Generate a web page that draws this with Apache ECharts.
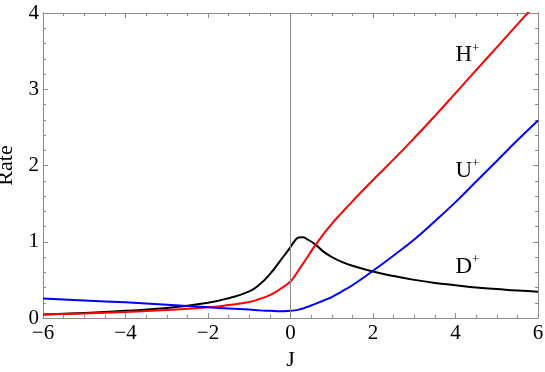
<!DOCTYPE html>
<html>
<head>
<meta charset="utf-8">
<script src="https://cdn.jsdelivr.net/npm/echarts@6/dist/echarts.min.js"></script>
<style>
  html, body { margin: 0; padding: 0; background: #fff; }
  #chart { width: 545px; height: 372px; }
</style>
</head>
<body>
<div id="chart"></div>
<script>
// J values (x) and the three rates
const jValues = [-6, -5, -4, -3, -2, -1.5, -1, -0.75, -0.5, -0.25, 0, 0.1, 0.2, 0.3, 0.4, 0.6, 0.8, 1, 1.25, 1.5, 2, 2.5, 3, 3.5, 4, 4.5, 5, 5.5, 6];
const hPlus = [0.045, 0.06, 0.08, 0.105, 0.14, 0.17, 0.21, 0.25, 0.30, 0.38, 0.48, 0.55, 0.63, 0.71, 0.79, 0.955, 1.10, 1.235, 1.385, 1.53, 1.81, 2.08, 2.36, 2.65, 2.95, 3.25, 3.55, 3.85, 4.15];
const uPlus = [0.255, 0.23, 0.205, 0.175, 0.14, 0.125, 0.11, 0.10, 0.095, 0.09, 0.095, 0.10, 0.11, 0.125, 0.145, 0.185, 0.23, 0.275, 0.35, 0.43, 0.62, 0.82, 1.03, 1.27, 1.52, 1.79, 2.06, 2.33, 2.59];
const dPlus = [0.045, 0.065, 0.095, 0.13, 0.2, 0.26, 0.35, 0.44, 0.575, 0.75, 0.93, 1.01, 1.055, 1.058, 1.035, 0.965, 0.87, 0.80, 0.735, 0.685, 0.61, 0.55, 0.50, 0.46, 0.43, 0.40, 0.38, 0.36, 0.345];

const xTicks = [-6, -4, -2, 0, 2, 4, 6];
const yTicks = [0, 1, 2, 3, 4];

const serif = '"Liberation Serif", "DejaVu Serif", serif';
const frameColor = '#8c8c8c';

function pairs(ys) {
    return jValues.map((x, i) => [x, ys[i]]);
}

function fmtX(v) {
    return v < 0 ? '\u2212' + (-v) : String(v);
}

const chart = echarts.init(document.getElementById('chart'), null, { renderer: 'canvas' });

const tickCommon = {
    show: true,
    axisLine: { show: true, onZero: false, lineStyle: { color: frameColor, width: 1 } },
    axisTick: { show: true, inside: true, length: 5, lineStyle: { color: frameColor } },
    minorTick: { show: true, length: 3, lineStyle: { color: frameColor } },
    splitLine: { show: false }
};

const option = {
    animation: false,
    backgroundColor: '#fff',
    grid: { left: 43, right: 7, top: 13, bottom: 54, outerBoundsMode: 'none', containLabel: false },
    xAxis: [{
        type: 'value', min: xTicks[0], max: xTicks[xTicks.length - 1], interval: 2,
        position: 'bottom',
        name: 'J', nameLocation: 'middle', nameGap: 30,
        nameTextStyle: { fontFamily: serif, fontSize: 22, color: '#000' },
        axisLabel: { fontFamily: serif, fontSize: 21, color: '#000', margin: 5, formatter: fmtX },
        ...tickCommon,
        minorTick: { ...tickCommon.minorTick, splitNumber: 4 }
    }, {
        type: 'value', min: xTicks[0], max: xTicks[xTicks.length - 1], interval: 2,
        position: 'top',
        axisLabel: { show: false },
        ...tickCommon,
        minorTick: { ...tickCommon.minorTick, splitNumber: 4 }
    }],
    yAxis: [{
        type: 'value', min: yTicks[0], max: yTicks[yTicks.length - 1], interval: 1,
        position: 'left',
        name: 'Rate', nameLocation: 'middle', nameGap: 20,
        nameTextStyle: { fontFamily: serif, fontSize: 22, color: '#000' },
        axisLabel: { fontFamily: serif, fontSize: 21, color: '#000', margin: 4 },
        ...tickCommon,
        minorTick: { ...tickCommon.minorTick, splitNumber: 5 }
    }, {
        type: 'value', min: yTicks[0], max: yTicks[yTicks.length - 1], interval: 1,
        position: 'right',
        axisLabel: { show: false },
        ...tickCommon,
        minorTick: { ...tickCommon.minorTick, splitNumber: 5 }
    }],
    series: [
        {
            name: 'D+', type: 'line', data: pairs(dPlus), smooth: 0.5, showSymbol: false,
            lineStyle: { color: '#000', width: 2 },
            markLine: {
                silent: true, symbol: 'none', label: { show: false },
                lineStyle: { color: frameColor, width: 1, type: 'solid' },
                data: [{ xAxis: 0 }]
            }
        },
        { name: 'H+', type: 'line', data: pairs(hPlus), smooth: 0.5, showSymbol: false, lineStyle: { color: '#ff0000', width: 2 } },
        { name: 'U+', type: 'line', data: pairs(uPlus), smooth: 0.5, showSymbol: false, lineStyle: { color: '#0000ff', width: 2 } }
    ]
};

chart.setOption(option);

// curve labels, anchored in data coordinates
const labelSpots = [['H', 4.0, 3.45], ['U', 4.0, 1.94], ['D', 4.0, 0.68]];
chart.setOption({
    graphic: labelSpots.map(([letter, x, y]) => {
        const p = chart.convertToPixel({ gridIndex: 0 }, [x, y]);
        return {
            type: 'text', left: p[0], top: p[1] - 13,
            style: {
                text: '{b|' + letter + '}{s|+}',
                rich: {
                    b: { fontFamily: serif, fontSize: 23, fill: '#000' },
                    s: { fontFamily: serif, fontSize: 13, fill: '#000', padding: [0, 0, 14, 0] }
                }
            }
        };
    })
});
</script>
</body>
</html>
